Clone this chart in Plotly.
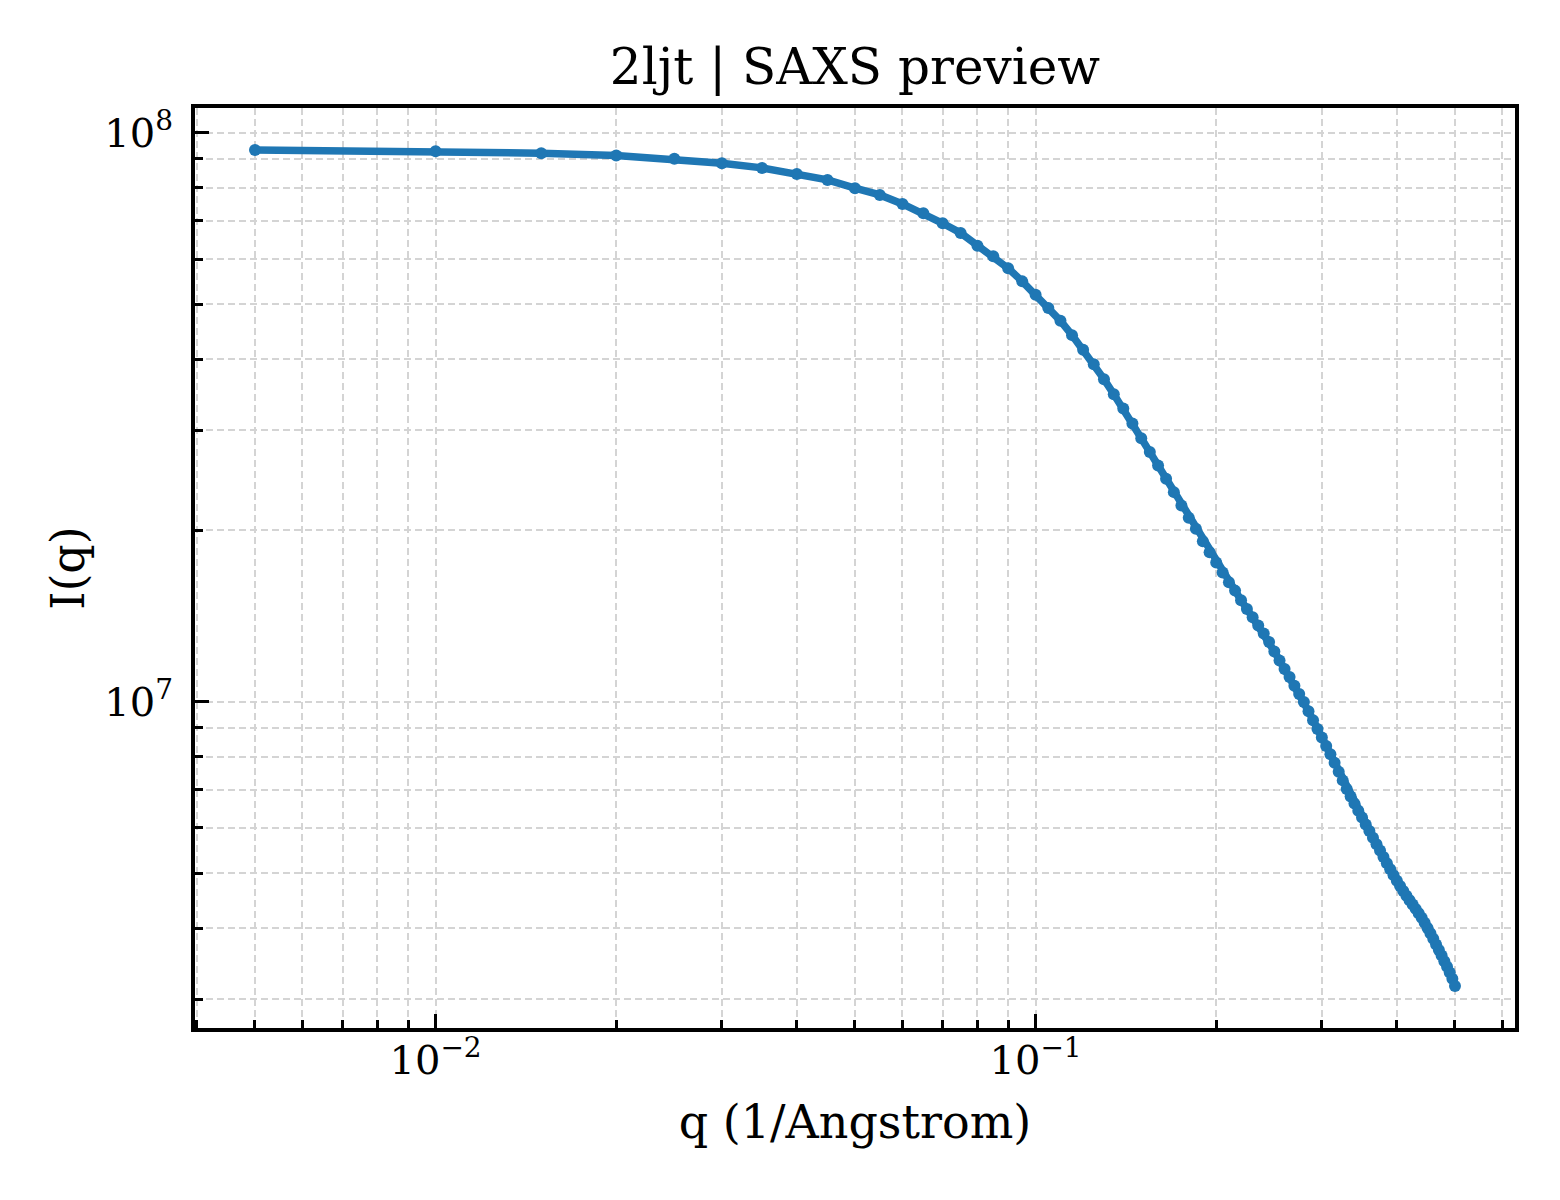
import plotly.graph_objects as go

# scattering vector q (1/Angstrom)
q = [
    0.005, 0.010, 0.015, 0.020, 0.025, 0.030, 0.035, 0.040, 0.045, 0.050,
    0.055, 0.060, 0.065, 0.070, 0.075, 0.080, 0.085, 0.090, 0.095, 0.100,
    0.105, 0.110, 0.115, 0.120, 0.125, 0.130, 0.135, 0.140, 0.145, 0.150,
    0.155, 0.160, 0.165, 0.170, 0.175, 0.180, 0.185, 0.190, 0.195, 0.200,
    0.205, 0.210, 0.215, 0.220, 0.225, 0.230, 0.235, 0.240, 0.245, 0.250,
    0.255, 0.260, 0.265, 0.270, 0.275, 0.280, 0.285, 0.290, 0.295, 0.300,
    0.305, 0.310, 0.315, 0.320, 0.325, 0.330, 0.335, 0.340, 0.345, 0.350,
    0.355, 0.360, 0.365, 0.370, 0.375, 0.380, 0.385, 0.390, 0.395, 0.400,
    0.405, 0.410, 0.415, 0.420, 0.425, 0.430, 0.435, 0.440, 0.445, 0.450,
    0.455, 0.460, 0.465, 0.470, 0.475, 0.480, 0.485, 0.490, 0.495, 0.500,
]

# intensity I(q)
intensity = [
    9.334e7, 9.285e7, 9.210e7, 9.122e7, 9.001e7, 8.845e7, 8.678e7, 8.470e7, 8.266e7, 7.993e7,
    7.779e7, 7.499e7, 7.222e7, 6.935e7, 6.668e7, 6.333e7, 6.067e7, 5.779e7, 5.482e7, 5.192e7,
    4.920e7, 4.673e7, 4.410e7, 4.155e7, 3.921e7, 3.690e7, 3.471e7, 3.276e7, 3.083e7, 2.904e7,
    2.748e7, 2.603e7, 2.466e7, 2.336e7, 2.213e7, 2.106e7, 2.014e7, 1.915e7, 1.832e7, 1.757e7,
    1.687e7, 1.622e7, 1.568e7, 1.508e7, 1.456e7, 1.408e7, 1.362e7, 1.318e7, 1.273e7, 1.226e7,
    1.182e7, 1.142e7, 1.105e7, 1.067e7, 1.032e7, 9.988e6, 9.626e6, 9.277e6, 8.956e6, 8.652e6,
    8.362e6, 8.089e6, 7.809e6, 7.532e6, 7.274e6, 7.024e6, 6.817e6, 6.621e6, 6.433e6, 6.258e6,
    6.085e6, 5.925e6, 5.769e6, 5.617e6, 5.475e6, 5.335e6, 5.200e6, 5.075e6, 4.957e6, 4.846e6,
    4.743e6, 4.648e6, 4.561e6, 4.478e6, 4.400e6, 4.324e6, 4.247e6, 4.170e6, 4.087e6, 4.002e6,
    3.919e6, 3.832e6, 3.745e6, 3.661e6, 3.579e6, 3.497e6, 3.420e6, 3.343e6, 3.259e6, 3.165e6,
]

x_major = [0.01, 0.1]
x_major_text = ["10<sup>\u22122</sup>", "10<sup>\u22121</sup>"]
x_minor = [0.004, 0.005, 0.006, 0.007, 0.008, 0.009,
           0.02, 0.03, 0.04, 0.05, 0.06, 0.07, 0.08, 0.09,
           0.2, 0.3, 0.4, 0.5, 0.6]

y_major = [1e7, 1e8]
y_major_text = ["10<sup>7</sup>", "10<sup>8</sup>"]
y_minor = [3e6, 4e6, 5e6, 6e6, 7e6, 8e6, 9e6,
           2e7, 3e7, 4e7, 5e7, 6e7, 7e7, 8e7, 9e7]

FONT = "DejaVu Serif"
GRID = "#d4d4d4"

# the page body adds an 8px offset, so the figure is 8px smaller
W, H = 1552, 1192

fig = go.Figure()

fig.add_trace(go.Scatter(
    x=q,
    y=intensity,
    mode="lines+markers",
    line=dict(color="#1f77b4", width=7.5),
    marker=dict(color="#1f77b4", size=12),
    showlegend=False,
))


def axis_style(tickvals, ticktext, minor_vals, rng, title, standoff, label_pad):
    return dict(
        type="log",
        range=rng,
        tickmode="array",
        tickvals=tickvals,
        ticktext=ticktext,
        ticks="inside",
        ticklen=14,
        tickwidth=3,
        tickcolor="black",
        ticklabelstandoff=label_pad,
        tickfont=dict(family=FONT, size=40, color="black"),
        showline=True,
        linecolor="black",
        linewidth=4,
        mirror=True,
        showgrid=True,
        gridcolor=GRID,
        gridwidth=1.8,
        griddash="7px,4px",
        zeroline=False,
        minor=dict(
            tickmode="array",
            tickvals=minor_vals,
            ticks="inside",
            ticklen=8,
            tickwidth=2.5,
            tickcolor="black",
            showgrid=True,
            gridcolor=GRID,
            gridwidth=1.5,
            griddash="7px,4px",
        ),
        title=dict(text=title, font=dict(family=FONT, size=46, color="black"),
                   standoff=standoff),
    )


fig.update_layout(
    width=W,
    height=H,
    autosize=False,
    margin=dict(l=187, r=45, t=100, b=172),
    plot_bgcolor="white",
    paper_bgcolor="white",
    font=dict(family=FONT, color="black"),
    title=dict(
        text="2ljt | SAXS preview",
        font=dict(family=FONT, size=50, color="black"),
        x=0.5, xref="paper", xanchor="center",
        y=1 - 58 / H, yref="container", yanchor="middle",
    ),
    xaxis=axis_style(x_major, x_major_text, x_minor, [-2.401, -0.201],
                     "q (1/Angstrom)", 25, -6),
    yaxis=axis_style(y_major, y_major_text, y_minor, [6.4265, 8.0437],
                     "I(q)", 6, 10),
)

fig.write_html("out.html")
